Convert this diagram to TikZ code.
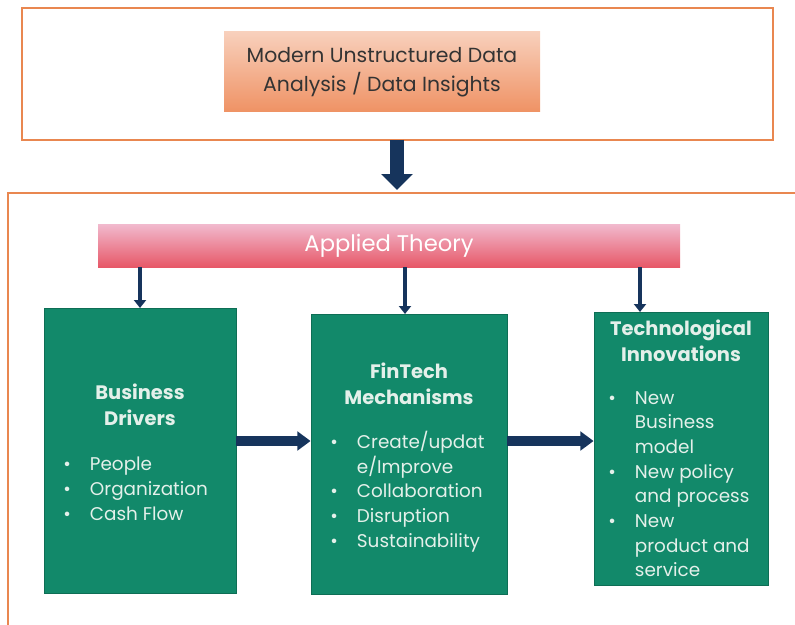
\documentclass[tikz,border=0pt]{standalone}
\usepackage{fontspec}
\setmainfont{Poppins}
\usetikzlibrary{arrows.meta,fit}
\definecolor{frameorange}{RGB}{233,135,80}
\definecolor{navy}{RGB}{22,52,92}
\definecolor{boxgreen}{RGB}{18,137,106}
\definecolor{greentext}{RGB}{228,240,234}
\definecolor{peachtop}{RGB}{248,208,188}
\definecolor{peachbot}{RGB}{239,146,100}
\definecolor{pinktop}{RGB}{241,186,206}
\definecolor{pinkbot}{RGB}{231,88,104}
\newcommand{\bl}[1]{\makebox[20pt][l]{•}#1}
\newcommand{\cn}[1]{\hspace*{20pt}#1}
\tikzset{
  frame/.style={draw=frameorange, line width=1.5pt, inner sep=0pt},
  databox/.style={inner sep=0pt, top color=peachtop, bottom color=peachbot},
  datatext/.style={text=black!80, align=center, inner sep=0pt, font=\fontsize{15.3}{22}\selectfont},
  theorybox/.style={inner sep=0pt, top color=pinktop, bottom color=pinkbot},
  theorytext/.style={text=white, inner sep=0pt, font=\fontsize{17}{20}\selectfont},
  greenbox/.style={inner sep=0pt, fill=boxgreen, draw=boxgreen!80!black, line width=0.6pt},
  gtitle/.style={text=greentext, align=center, inner sep=0pt, font=\bfseries\fontsize{14.6}{19.5}\selectfont},
  glist/.style={text=greentext, align=left, inner sep=0pt, anchor=north west,
    font=\fontsize{13.8}{18.5}\selectfont},
  bigarrow/.style={draw=navy, line width=10pt, -{Triangle[width=23pt,length=12pt]}},
  downarrow/.style={draw=navy, line width=3.5pt, -{Triangle[width=9pt,length=6pt]}},
  sidearrow/.style={draw=navy, line width=7.5pt, -{Triangle[width=14pt,length=10pt]}},
}
\begin{document}
\begin{tikzpicture}[x=0.75pt,y=-0.75pt]
\useasboundingbox (0,0) rectangle (795,624);

% upper frame with the data source box
\node[frame, fit={(22,8)(773,140)}] (top) {};
\node[databox, fit={(224,32)(540,112)}] (data) {};
\node[datatext] (datat) at (382,72) {Modern Unstructured Data\\Analysis / Data Insights};

% lower frame, running off the right and bottom edges
\node[frame, fit={(8,193)(810,640)}] (lower) {};
\coordinate (lowin) at (397,190);
\draw[bigarrow] (397,140) -- (lowin);

% applied theory bar
\node[theorybox, fit={(98,224)(680,267)}] (theory) {};
\node[theorytext] (theoryt) at (389,246) {Applied Theory};

% the three green blocks
\node[greenbox, fit={(44,308)(236,593)}] (bd) {};
\node[greenbox, fit={(311,314)(507,594)}] (ft) {};
\node[greenbox, fit={(594,312)(768,585)}] (ti) {};

% titles
\node[gtitle] (bdt) at (140,405) {Business\\Drivers};
\node[gtitle] (ftt) at (409,384) {FinTech\\Mechanisms};
\node[gtitle] (tit) at (681,341) {Technological\\Innovations};

% bullet lists
\node[glist] (bdl) at (63,457) {\bl{People}\\ \bl{Organization}\\ \bl{Cash Flow}};
\node[glist] (ftl) at (330,431) {\bl{Create/updat}\\ \cn{e/Improve}\\ \bl{Collaboration}\\ \bl{Disruption}\\ \bl{Sustainability}};
\node[glist] (til) at (608,391) {\bl{New}\\ \cn{Business}\\ \cn{model}\\ \bl{New policy}\\ \cn{and process}\\ \bl{New}\\ \cn{product and}\\ \cn{service}};

% arrows from the theory bar into each block
\coordinate (bdin) at (140,308);
\coordinate (ftin) at (405,314);
\coordinate (tiin) at (640,312);
\draw[downarrow] (theory.south -| bdin) -- (bdin);
\draw[downarrow] (theory.south -| ftin) -- (ftin);
\draw[downarrow] (theory.south -| tiin) -- (tiin);

% arrows between the blocks
\coordinate (bdout) at (236,441);
\draw[sidearrow] (bdout) -- (ft.west |- bdout);
\coordinate (ftout) at (507,441);
\draw[sidearrow] (ftout) -- (ti.west |- ftout);
\end{tikzpicture}
\end{document}
